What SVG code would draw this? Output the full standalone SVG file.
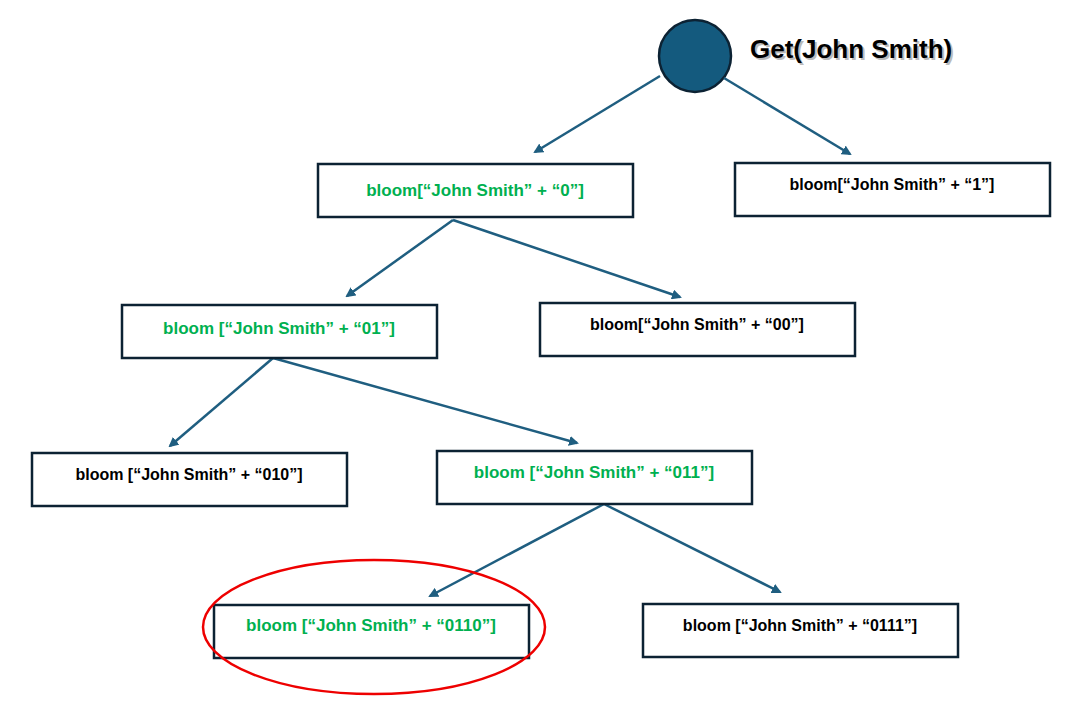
<svg xmlns="http://www.w3.org/2000/svg" width="1071" height="721" viewBox="0 0 1071 721">
<style>
.box{fill:#fff;stroke:#0c2233;stroke-width:2.5}
.t{font-family:"Liberation Sans",Arial,sans-serif;font-weight:bold;font-size:16px;text-anchor:middle;fill:#000}
.g{fill:#00b050;font-size:17px}
.c line{stroke:#1f5e80;stroke-width:2.5;marker-end:url(#a)}
</style>
<defs>
<marker id="a" viewBox="0 0 10 10" refX="8" refY="5" markerWidth="4" markerHeight="4" orient="auto"><path d="M0,0L10,5L0,10z" fill="#1f5e80"/></marker>
</defs>
<rect width="1071" height="721" fill="#fff"/>
<g id="root">
<circle cx="695" cy="56" r="36" fill="#145a7e" stroke="#0c2233" stroke-width="2.5"/>
<text x="752" y="60" font-family="Liberation Sans,Arial,sans-serif" font-weight="bold" font-size="26" fill="#bbb">Get(John Smith)</text>
<text x="750" y="58" font-family="Liberation Sans,Arial,sans-serif" font-weight="bold" font-size="26" fill="#000">Get(John Smith)</text>
</g>
<g class="c" id="connectors">
<line x1="660" y1="76" x2="535" y2="152"/>
<line x1="724" y1="78" x2="850" y2="154"/>
<line x1="453" y1="220" x2="347" y2="296"/>
<line x1="453" y1="220" x2="680" y2="297"/>
<line x1="273" y1="358" x2="170" y2="446"/>
<line x1="273" y1="358" x2="577" y2="443"/>
<line x1="604" y1="504" x2="430" y2="596"/>
<line x1="604" y1="504" x2="780" y2="592"/>
</g>
<g id="n0"><rect class="box" x="318" y="164" width="315" height="53"/><text class="t g" x="475" y="196">bloom[“John Smith” + “0”]</text></g>
<g id="n1"><rect class="box" x="735" y="163" width="315" height="53"/><text class="t" x="892" y="190">bloom[“John Smith” + “1”]</text></g>
<g id="n01"><rect class="box" x="122" y="305" width="315" height="53"/><text class="t g" x="279" y="334">bloom [“John Smith” + “01”]</text></g>
<g id="n00"><rect class="box" x="540" y="303" width="315" height="53"/><text class="t" x="697" y="330">bloom[“John Smith” + “00”]</text></g>
<g id="n010"><rect class="box" x="32" y="453" width="315" height="53"/><text class="t" x="189" y="480">bloom [“John Smith” + “010”]</text></g>
<g id="n011"><rect class="box" x="437" y="451" width="315" height="53"/><text class="t g" x="594" y="478">bloom [“John Smith” + “011”]</text></g>
<g id="n0110"><rect class="box" x="214" y="605" width="315" height="53"/><text class="t g" x="371" y="631">bloom [“John Smith” + “0110”]</text></g>
<g id="n0111"><rect class="box" x="643" y="604" width="315" height="53"/><text class="t" x="800" y="631">bloom [“John Smith” + “0111”]</text></g>
<ellipse id="highlight" cx="374" cy="627" rx="171" ry="67" fill="none" stroke="#e00" stroke-width="2.5"/>
</svg>
